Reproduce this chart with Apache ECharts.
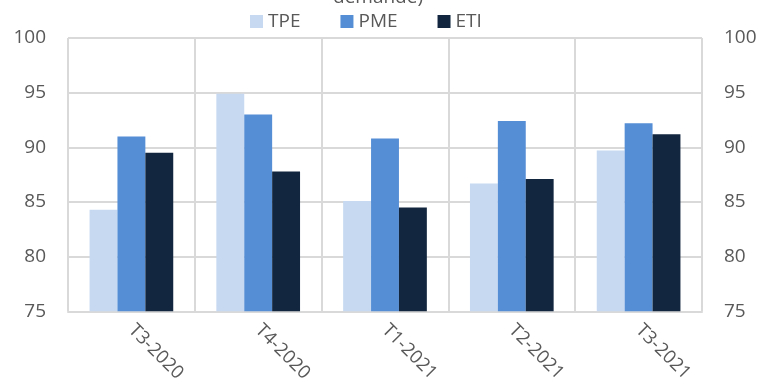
<!DOCTYPE html>
<html>
<head>
<meta charset="utf-8">
<script src="https://cdn.jsdelivr.net/npm/echarts@6/dist/echarts.min.js"></script>
<style>
  html, body { margin: 0; padding: 0; background: #fff; }
  #chart { width: 762px; height: 385px; }
</style>
</head>
<body>
<div id="chart"></div>
<script>
// Quarterly values by company size
const categories = ['T3-2020', 'T4-2020', 'T1-2021', 'T2-2021', 'T3-2021'];
const tpe = [84.3, 94.9, 85.1, 86.7, 89.7];
const pme = [91.0, 93.0, 90.8, 92.4, 92.2];
const eti = [89.5, 87.8, 84.5, 87.1, 91.2];
const seriesNames = ['TPE', 'PME', 'ETI'];
const yTicks = { min: 75, max: 100, step: 5 };

const FONT = 'Open Sans';
const TEXT = '#595959';
const GRID = '#d9d9d9';
const colors = ['#c6d9f1', '#558ed5', '#12263f'];

const chart = echarts.init(document.getElementById('chart'), null, { renderer: 'canvas' });

const valueAxis = (pos) => ({
  type: 'value',
  position: pos,
  min: yTicks.min,
  max: yTicks.max,
  interval: yTicks.step,
  axisLine: { show: false },
  axisTick: { show: false },
  axisLabel: { color: TEXT, fontFamily: FONT, fontSize: 19, margin: 22 },
  splitLine: { show: pos === 'left', lineStyle: { color: GRID, width: 2 } }
});

chart.setOption({
  animation: false,
  textStyle: { fontFamily: FONT },
  graphic: [{
    type: 'text',
    style: {
      text: 'demande)',
      x: 378,
      y: 7,
      align: 'center',
      verticalAlign: 'bottom',
      fill: TEXT,
      font: '19px "Open Sans"'
    }
  }],
  legend: {
    data: seriesNames,
    left: 245,
    top: 7,
    itemWidth: 13,
    itemHeight: 13,
    itemGap: 40,
    icon: 'rect',
    textStyle: { color: TEXT, fontFamily: FONT, fontSize: 19, padding: [0, 0, 0, 0] }
  },
  grid: { left: 68, right: 60, top: 38, bottom: 72, containLabel: false },
  xAxis: {
    type: 'category',
    data: categories,
    axisLine: { lineStyle: { color: GRID, width: 2 } },
    axisTick: { show: false },
    splitLine: { show: true, lineStyle: { color: GRID, width: 2 } },
    axisLabel: { color: TEXT, fontFamily: FONT, fontSize: 18.5, rotate: -45, margin: 16, interval: 0 }
  },
  yAxis: [valueAxis('left'), valueAxis('right')],
  series: [
    { name: seriesNames[0], type: 'bar', data: tpe, itemStyle: { color: colors[0] }, barGap: '0%', barCategoryGap: '34%' },
    { name: seriesNames[1], type: 'bar', data: pme, itemStyle: { color: colors[1] } },
    { name: seriesNames[2], type: 'bar', data: eti, itemStyle: { color: colors[2] } }
  ]
});
</script>
</body>
</html>
